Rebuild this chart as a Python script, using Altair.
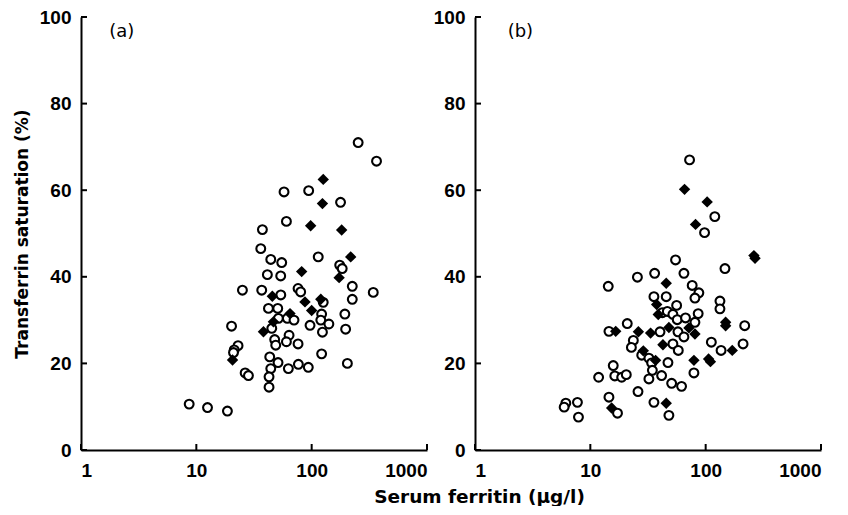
import altair as alt
import pandas as pd

# ---------------- data ----------------
X_TICKS = [1, 10, 100, 1000]
Y_TICKS = [0, 20, 40, 60, 80, 100]

# panel (a) open circles
A_OPEN_X = [253, 365, 57.6, 94.2, 178, 60.4, 37.4, 36.2, 114, 44.2, 55.0, 175, 184,
            41.3, 53.9, 25.1, 36.9, 54, 76.2, 80.3, 225, 342, 225, 126, 42.2, 50.8,
            122, 194, 51.5, 61.5, 70.3, 120, 141, 96.8, 45.1, 20.2, 124, 197, 63.7,
            47.8, 60.4, 76.2, 48.8, 23.0, 21.3, 21.0, 122, 43.3, 51.1, 76.7, 204,
            62.8, 93.5, 44.2, 26.5, 28.3, 42.7, 42.7, 8.67, 12.5, 18.6]
A_OPEN_Y = [71.0, 66.7, 59.6, 59.9, 57.2, 52.8, 50.9, 46.5, 44.6, 44.0, 43.3, 42.7, 41.9,
            40.5, 40.2, 36.9, 36.9, 35.8, 37.3, 36.5, 37.8, 36.4, 34.8, 34.1, 32.7, 32.7,
            31.4, 31.4, 30.4, 30.4, 30.0, 30.0, 29.1, 28.8, 28.1, 28.6, 27.2, 27.9, 26.5,
            25.5, 25.0, 24.5, 24.2, 24.1, 23.1, 22.5, 22.2, 21.5, 20.2, 19.8, 20.0,
            18.8, 19.1, 18.8, 17.8, 17.2, 16.9, 14.5, 10.6, 9.8, 9.0]
# panel (a) filled diamonds
A_DIA_X = [126, 124, 98, 182, 218, 81.9, 173, 45.6, 87.5, 120, 100, 64.9, 46.6, 38.2, 20.6]
A_DIA_Y = [62.5, 56.9, 51.8, 50.8, 44.6, 41.2, 39.8, 35.5, 34.2, 34.8, 32.2, 31.5, 29.6, 27.3, 20.8]

# panel (b) open circles
B_OPEN_X = [72.5, 120, 97.8, 54.8, 147, 14.3, 25.6, 36.1, 64.8, 76.4, 87.3, 80.7, 35.6,
            45.5, 56.0, 133, 133, 42.1, 46.5, 52.0, 56.7, 66.9, 86.1, 80.7, 218, 20.9,
            14.5, 40.2, 57.5, 64.8, 23.6, 22.7, 52.0, 57.9, 112, 136, 211, 27.9, 32.2,
            47.1, 34.0, 34.5, 15.8, 16.3, 18.7, 20.5, 11.8, 41.5, 32.2, 79.1, 50.7,
            61.8, 25.9, 14.5, 17.2, 35.6, 48.0, 6.13, 5.93, 7.73, 7.89]
B_OPEN_Y = [67.0, 53.9, 50.2, 43.9, 41.9, 37.8, 39.9, 40.8, 40.8, 38.0, 36.3, 35.1, 35.4,
            35.4, 33.4, 34.4, 32.6, 31.7, 32.0, 31.3, 30.1, 30.5, 31.5, 29.5, 28.7, 29.2,
            27.4, 27.3, 27.3, 26.1, 25.3, 23.7, 24.5, 23.0, 24.9, 23.0, 24.5, 21.9, 21.2,
            20.2, 20.1, 18.4, 19.5, 17.1, 16.8, 17.4, 16.8, 17.2, 16.4, 17.8, 15.4,
            14.7, 13.5, 12.2, 8.5, 11.0, 8.0, 10.8, 9.9, 11.0, 7.6]
# panel (b) filled diamonds
B_DIA_X = [65.6, 103, 81.7, 262, 268, 45.5, 37.6, 38.8, 149, 149, 16.6, 26.1, 33.3, 48.0,
           71.6, 80.7, 42.6, 170, 28.8, 36.8, 79.1, 106, 110, 15.3, 45.5]
B_DIA_Y = [60.2, 57.3, 52.1, 44.9, 44.3, 38.5, 33.6, 31.3, 29.5, 28.7, 27.4, 27.3, 27.0, 28.3,
           28.2, 26.8, 24.3, 23.0, 22.9, 20.7, 20.7, 21.0, 20.4, 9.7, 10.8]

PANEL_TAGS = ["(a)", "(b)"]
TAG_X = [1.76, 1.92]
TAG_Y = [96.5, 96.5]

X_TITLE = "Serum ferritin (\u03bcg/l)"
Y_TITLE = "Transferrin saturation (%)"

# ---------------- layout ----------------
W, H = 346, 433
TICK_LEN = 6

X_SCALE = alt.Scale(type="log", domain=[1, 1000], nice=False)
Y_SCALE = alt.Scale(domain=[0, 100], nice=False, zero=False)


def make_panel(ox, oy, dx, dy, idx, first):
    open_df = pd.DataFrame({"x": ox, "y": oy})
    dia_df = pd.DataFrame({"x": dx, "y": dy})

    if first:
        x_axis = alt.Axis(values=X_TICKS, format="d", ticks=False, tickSize=0,
                          labelPadding=11, title=X_TITLE, titleX=398, titleY=52,
                          titleAlign="center", titleBaseline="alphabetic",
                          titleFontSize=18.5)
        y_axis = alt.Axis(values=Y_TICKS, ticks=False, tickSize=0, labelPadding=10,
                          title=Y_TITLE, titleX=-54, titleY=H / 2, titleAngle=270,
                          titleAlign="center", titleBaseline="alphabetic",
                          titleFontSize=17)
    else:
        x_axis = alt.Axis(values=X_TICKS, format="d", ticks=False, tickSize=0,
                          labelPadding=11, title=None)
        y_axis = alt.Axis(values=Y_TICKS, ticks=False, tickSize=0, labelPadding=10,
                          title=None)

    circles = alt.Chart(open_df).mark_point(
        shape="circle", filled=True, fill="white", stroke="black",
        strokeWidth=2.1, size=78, opacity=1
    ).encode(
        x=alt.X("x:Q", scale=X_SCALE, axis=x_axis),
        y=alt.Y("y:Q", scale=Y_SCALE, axis=y_axis),
    )

    diamonds = alt.Chart(dia_df).mark_point(
        shape="diamond", filled=True, fill="black", strokeWidth=0, size=130, opacity=1
    ).encode(
        x=alt.X("x:Q", scale=X_SCALE),
        y=alt.Y("y:Q", scale=Y_SCALE),
    )

    xt = alt.Chart(pd.DataFrame({"x": X_TICKS})).mark_rule(
        color="black", strokeWidth=2
    ).encode(
        x=alt.X("x:Q", scale=X_SCALE),
        y=alt.value(H), y2=alt.value(H - TICK_LEN),
    )
    yt = alt.Chart(pd.DataFrame({"y": Y_TICKS})).mark_rule(
        color="black", strokeWidth=2
    ).encode(
        y=alt.Y("y:Q", scale=Y_SCALE),
        x=alt.value(0), x2=alt.value(TICK_LEN),
    )

    tag = alt.Chart(pd.DataFrame({"x": [TAG_X[idx]], "y": [TAG_Y[idx]],
                                  "t": [PANEL_TAGS[idx]]})).mark_text(
        align="left", baseline="middle", font="DejaVu Sans", fontSize=18,
        color="black"
    ).encode(
        x=alt.X("x:Q", scale=X_SCALE),
        y=alt.Y("y:Q", scale=Y_SCALE),
        text="t:N",
    )

    return alt.layer(xt, yt, circles, diamonds, tag).properties(width=W, height=H)


pa = make_panel(A_OPEN_X, A_OPEN_Y, A_DIA_X, A_DIA_Y, 0, True)
pb = make_panel(B_OPEN_X, B_OPEN_Y, B_DIA_X, B_DIA_Y, 1, False)

chart = alt.hconcat(pa, pb, spacing=48, bounds="flush").properties(
    padding={"left": 5, "top": 0, "right": 5, "bottom": 0},
    background="white",
).configure_view(stroke=None).configure_axis(
    grid=False,
    domainColor="black",
    domainWidth=2,
    labelFont="Liberation Sans",
    labelFontWeight="bold",
    labelFontSize=19,
    labelColor="black",
    titleFont="DejaVu Sans",
    titleFontWeight="bold",
    titleColor="black",
    labelOverlap=False,
)

chart.save("out.html", embed_options={"renderer": "svg", "actions": False})
